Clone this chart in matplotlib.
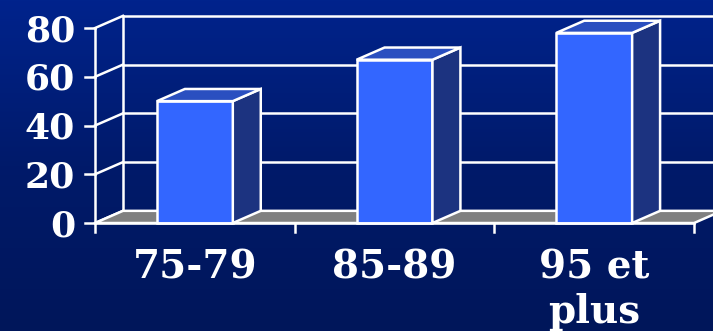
import numpy as np
import matplotlib
matplotlib.use("Agg")
import matplotlib.pyplot as plt
from matplotlib.colors import LinearSegmentedColormap

# data
categories = ["75-79", "85-89", "95 et\nplus"]
values = [50, 67, 78]
y_ticks = [0, 20, 40, 60, 80]

# fake 3d depth (in data units)
dx = 0.14
dy = 5
bar_w = 0.38

plt.rcParams['font.family'] = ['DejaVu Serif']

fig = plt.figure(figsize=(7.13, 3.31), dpi=100)
ax = fig.add_axes([0, 0, 1, 1])
xmin, xmax = -0.976, 2.595
ymin, ymax = -44.3, 91.5
ax.set_xlim(xmin, xmax)
ax.set_ylim(ymin, ymax)
ax.axis('off')

# background gradient
bg = LinearSegmentedColormap.from_list("bg", ["#00238c", "#001a6a", "#00165a"])
ax.imshow(np.linspace(0, 1, 200).reshape(-1, 1), cmap=bg, aspect='auto',
          extent=(xmin, xmax, ymin, ymax), zorder=0)

x = np.arange(len(categories))
left = -0.5
right = len(categories) - 0.5
lw = 1.8

# back wall grid lines + left wall diagonals
for v in y_ticks:
    ax.plot([left + dx, xmax], [v + dy, v + dy], color='white', lw=lw, zorder=1)
    ax.plot([left, left + dx], [v, v + dy], color='white', lw=lw, zorder=1)
    ax.plot([left - 0.05, left], [v, v], color='white', lw=lw, zorder=1)
    ax.text(left - 0.1, v - 5.4, str(v), ha='right', va='baseline',
            fontsize=26, fontweight='bold', color='white')
ax.plot([left + dx, left + dx], [dy, y_ticks[-1] + dy], color='white', lw=lw, zorder=1)
ax.plot([left, left], [0, y_ticks[-1]], color='white', lw=lw, zorder=1)

# floor
ax.fill([left, right, right + dx, left + dx], [0, 0, dy, dy],
        facecolor='#808080', edgecolor='white', lw=lw, zorder=1.5)

# bars: front faces, sides, tops
ax.bar(x, values, width=bar_w, color='#3366ff', edgecolor='white', lw=lw, zorder=3)
for xi, v in zip(x, values):
    r = xi + bar_w / 2
    l = xi - bar_w / 2
    ax.fill([r, r + dx, r + dx, r], [0, dy, v + dy, v],
            facecolor='#1c3380', edgecolor='white', lw=lw, zorder=3)
    ax.fill([l, r, r + dx, l + dx], [v, v, v + dy, v + dy],
            facecolor='#2a4fc0', edgecolor='white', lw=lw, zorder=3)

# front x axis and ticks
ax.plot([left, right], [0, 0], color='white', lw=lw, zorder=4)
for t in np.arange(left, right + 0.01, 1):
    ax.plot([t, t], [0, -3.5], color='white', lw=lw, zorder=4)

for xi, c in zip(x, categories):
    ax.text(xi, -10.6, c, ha='center', va='top', fontsize=28,
            fontweight='bold', color='white', linespacing=1.2)

fig.savefig("out.png", dpi=100)
